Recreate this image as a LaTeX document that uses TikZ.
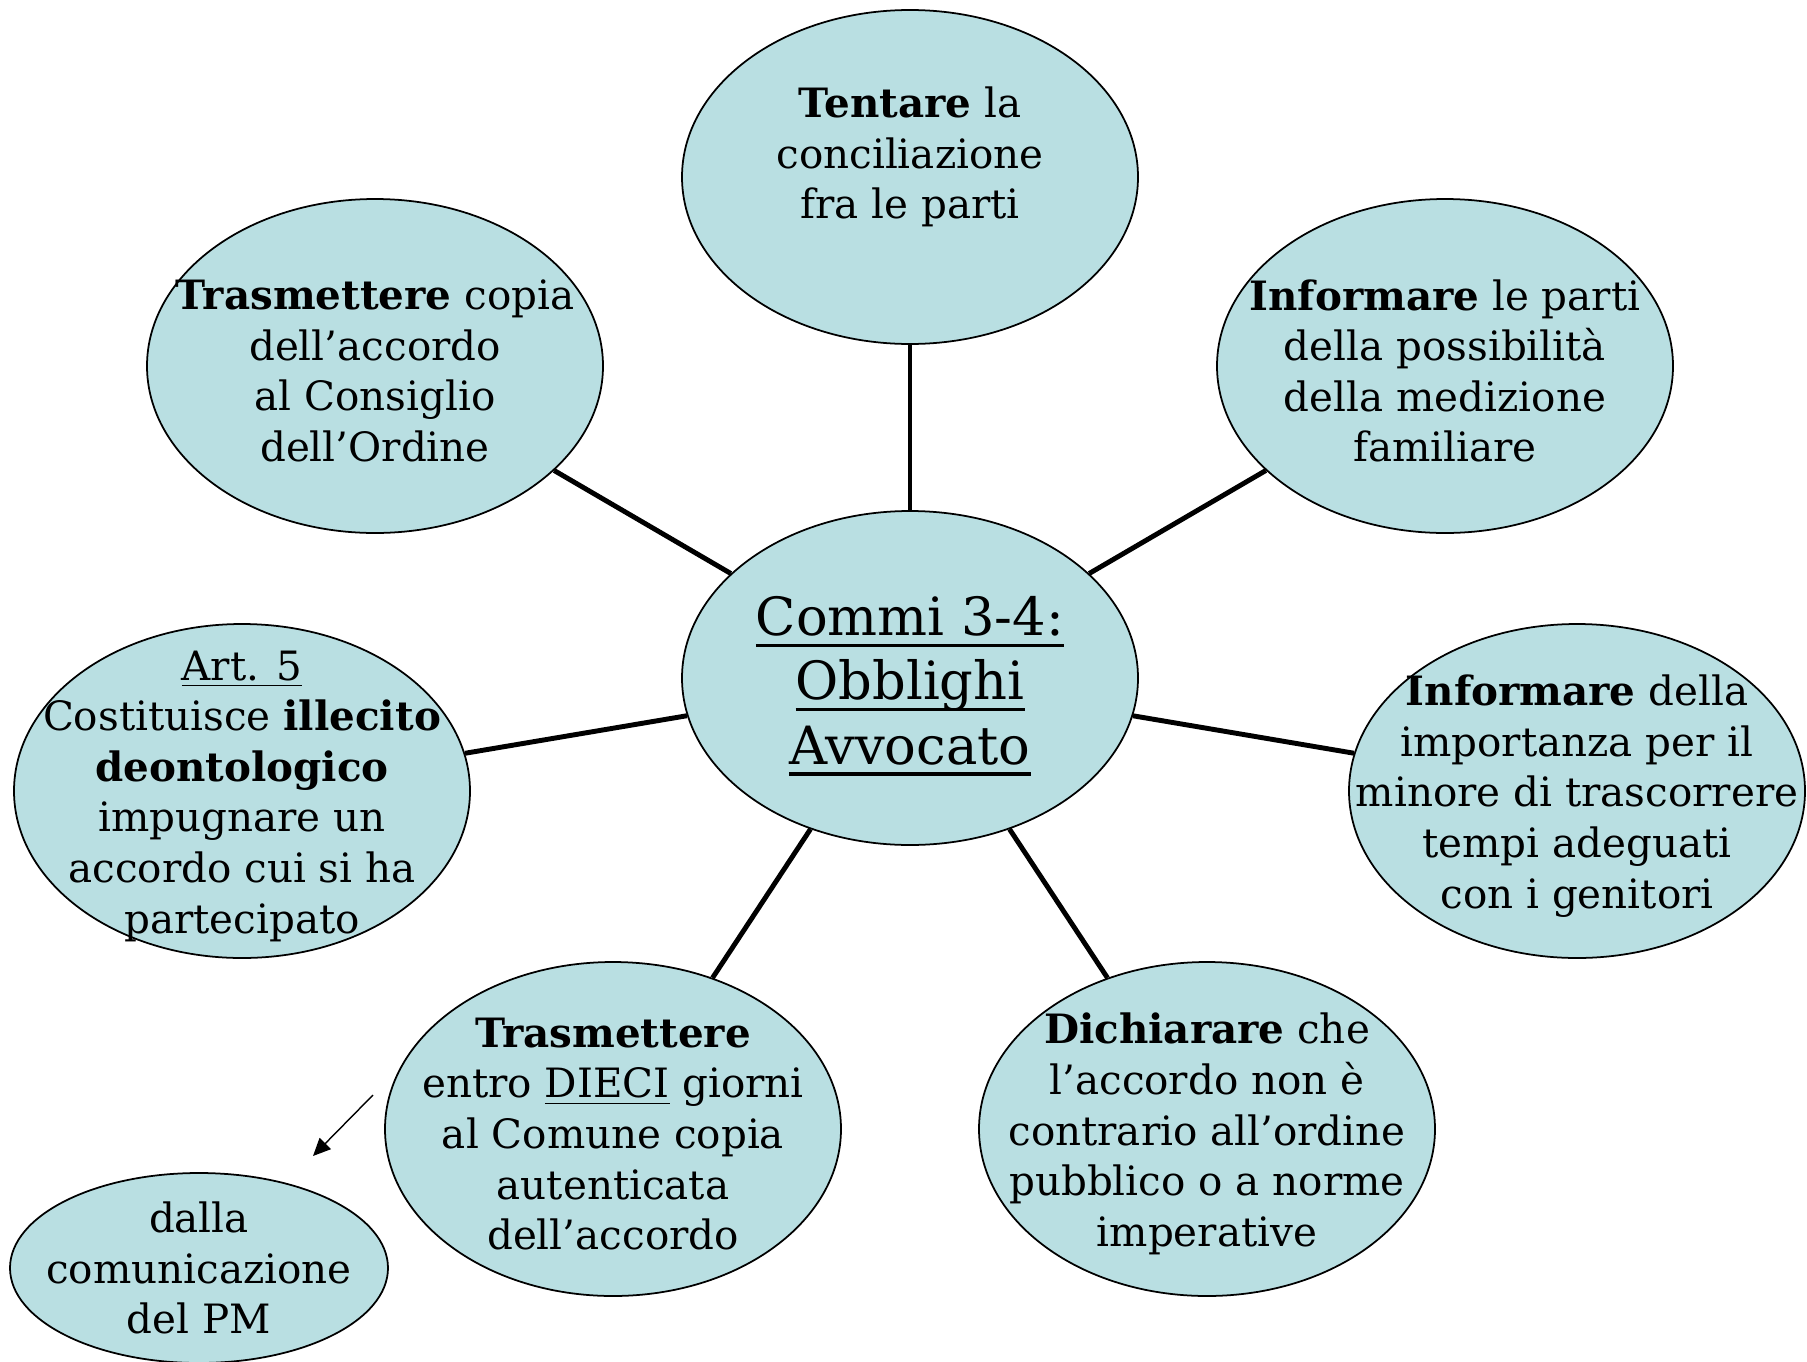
\documentclass[tikz,border=0pt]{standalone}
\usepackage{fontspec}
\setmainfont{DejaVu Serif}
\usepackage{tikz}
\usetikzlibrary{shapes.geometric,arrows.meta}

\definecolor{bubblefill}{RGB}{185,223,226}
\newcommand{\thickul}[1]{\sbox0{#1}\rlap{\rule[-3.3pt]{\wd0}{1pt}}\usebox0}

\begin{document}
\begin{tikzpicture}[
    bubble/.style={ellipse, draw, fill=bubblefill, line width=0.5pt,
        minimum width=4.56cm, minimum height=3.34cm, inner sep=0pt},
    bubbletext/.style={align=center, font=\fontsize{11.5}{14.4}\selectfont},
    spoke/.style={line width=1.4pt}
]
    \useasboundingbox (0,0) rectangle (18.07,13.61);

    % Draw the bubbles
    \node[bubble] (centre) at (9.10,6.83) {};
    \node[bubble] (tentare) at (9.10,11.84) {};
    \node[bubble] (consiglio) at (3.75,9.95) {};
    \node[bubble] (mediazione) at (14.45,9.95) {};
    \node[bubble] (illecito) at (2.42,5.70) {};
    \node[bubble] (genitori) at (15.77,5.70) {};
    \node[bubble] (comune) at (6.13,2.32) {};
    \node[bubble] (ordine) at (12.07,2.32) {};
    \node[bubble, minimum width=3.78cm, minimum height=1.90cm] (pm) at (1.99,0.93) {};

    % Draw the spokes
    \draw[spoke] (centre) -- (tentare);
    \draw[spoke] (centre) -- (consiglio);
    \draw[spoke] (centre) -- (mediazione);
    \draw[spoke] (centre) -- (illecito);
    \draw[spoke] (centre) -- (genitori);
    \draw[spoke] (centre) -- (comune);
    \draw[spoke] (centre) -- (ordine);

    % Texts
    \node[bubbletext, font=\fontsize{15}{18.3}\selectfont] (t-centre) at ([yshift=-0.8mm]centre)
        {\thickul{Commi 3-4:}\\\thickul{Obblighi}\\\thickul{Avvocato}};
    \node[bubbletext] (t-tentare) at ([yshift=2mm]tentare)
        {\textbf{Tentare} la\\conciliazione\\fra le parti};
    \node[bubbletext] (t-consiglio) at ([yshift=-0.5mm]consiglio)
        {\textbf{Trasmettere} copia\\dell’accordo\\al Consiglio\\ dell’Ordine};
    \node[bubbletext] (t-mediazione) at ([yshift=-0.5mm]mediazione)
        {\textbf{Informare} le parti\\della possibilità\\della medizione\\familiare};
    \node[bubbletext] (t-illecito) at ([yshift=-0.5mm]illecito)
        {\underline{Art. 5}\\Costituisce \textbf{illecito}\\\textbf{deontologico}\\impugnare un\\accordo cui si ha\\partecipato};
    \node[bubbletext] (t-genitori) at ([yshift=-0.5mm]genitori)
        {\textbf{Informare} della\\importanza per il\\minore di trascorrere\\tempi adeguati\\con i genitori};
    \node[bubbletext] (t-comune) at ([yshift=-0.5mm]comune)
        {\textbf{Trasmettere}\\entro \underline{DIECI} giorni\\al Comune copia\\autenticata\\dell’accordo};
    \node[bubbletext] (t-ordine) at ([yshift=-0.5mm]ordine)
        {\textbf{Dichiarare} che\\l’accordo non è\\contrario all’ordine\\pubblico o a norme\\imperative};
    \node[bubbletext] (t-pm) at (pm)
        {dalla\\comunicazione\\del PM};

    % Arrow towards the PM bubble
    \coordinate (a-start) at (3.73,2.66);
    \coordinate (a-end) at (3.13,2.05);
    \draw[-{Triangle[length=5pt,width=4.5pt]}] (a-start) -- (a-end);
\end{tikzpicture}
\end{document}
